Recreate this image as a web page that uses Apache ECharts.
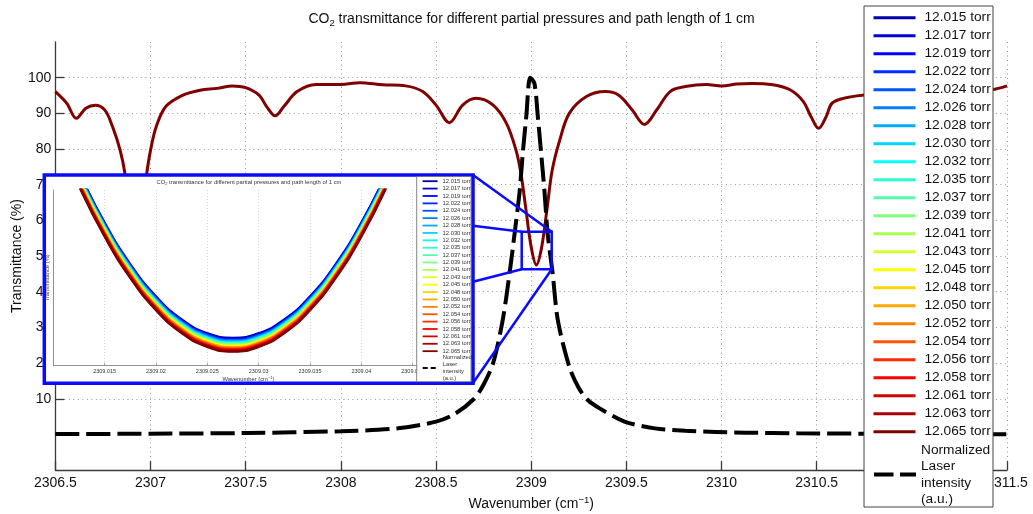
<!DOCTYPE html>
<html>
<head>
<meta charset="utf-8">
<script src="https://cdn.jsdelivr.net/npm/echarts@6/dist/echarts.min.js"></script>
<style>
html,body{margin:0;padding:0;background:#fff;}
#chart{width:1033px;height:514px;}
</style>
</head>
<body>
<div id="chart"></div>
<script>
const FONT = '"Liberation Sans", Arial, Helvetica, sans-serif';

// CO2 partial pressures (torr) and their jet colours
const pressures = ['12.015','12.017','12.019','12.022','12.024','12.026','12.028','12.030',
  '12.032','12.035','12.037','12.039','12.041','12.043','12.045','12.048','12.050','12.052',
  '12.054','12.056','12.058','12.061','12.063','12.065'];
const torrColors = ['#0000aa','#0000d5','#0000ff','#002bff','#0055ff','#0080ff','#00aaff','#00d5ff',
  '#00ffff','#2bffd5','#55ffaa','#80ff80','#aaff55','#d5ff2b','#ffff00','#ffd500','#ffaa00','#ff8000',
  '#ff5500','#ff2b00','#ff0000','#d50000','#aa0000','#800000'];

// Full spectrum (cm^-1, %)
const wavenumber = [2306.50,2306.56,2306.61,2306.66,2306.71,2306.76,2306.80,2306.84,2306.865,2306.89,
  2306.92,2306.95,2306.98,2307.00,2307.03,2307.08,2307.17,2307.26,2307.35,2307.43,2307.50,2307.57,
  2307.61,2307.655,2307.70,2307.77,2307.87,2308.00,2308.10,2308.22,2308.34,2308.43,2308.50,2308.57,
  2308.64,2308.71,2308.80,2308.87,2308.92,2308.945,2308.97,2309.00,2309.027,2309.055,2309.085,2309.11,
  2309.15,2309.20,2309.29,2309.39,2309.46,2309.53,2309.595,2309.66,2309.73,2309.81,2309.92,2310.00,
  2310.08,2310.16,2310.27,2310.36,2310.43,2310.47,2310.51,2310.55,2310.58,2310.64,2310.74,2310.90,
  2311.05,2311.20,2311.35,2311.42,2311.50];
const transmittance = [96.1,92.8,88.6,91.4,92.3,90.9,86.3,79.7,73.2,60.0,
  45.0,60.0,73.2,79.7,86.3,91.9,95.1,96.5,97.0,97.7,97.2,95.1,
  91.9,89.3,91.9,96.1,98.1,98.1,98.6,98.0,97.7,96.1,92.3,87.4,
  92.3,94.2,92.3,87.2,79.7,73.5,64.0,52.5,47.5,52.5,64.0,74.0,
  82.5,90.0,94.7,96.1,95.1,91.0,86.9,91.0,96.1,97.5,98.1,97.7,
  98.2,98.4,98.0,96.6,93.3,89.1,85.8,89.1,92.8,94.2,95.1,95.6,
  95.8,96.0,96.4,96.6,97.7];

// Normalized laser line profile
const laserWavenumber = [2306.5,2307.0,2307.5,2308.0,2308.3,2308.5,2308.6,2308.7,2308.75,2308.8,
  2308.85,2308.886,2308.912,2308.939,2308.956,2308.974,2308.995,2309.017,2309.035,2309.052,2309.07,
  2309.087,2309.113,2309.14,2309.2,2309.25,2309.3,2309.36,2309.49,2309.65,2309.81,2309.97,2310.13,
  2310.4,2310.8,2311.2,2311.5];
const laserIntensity = [0.1,0.2,0.4,0.9,1.7,3.6,5.8,10,14,20,
  32,45,56,68,79,89,100,98.4,89,79,68,
  56,45,32,19,13,9.5,7.3,3.6,1.7,1.0,0.7,0.5,
  0.3,0.2,0.1,0.05];

// Zoomed window around the line centre, one row per pressure
const insetWavenumber = [2309.0100,2309.0125,2309.0150,2309.0175,2309.0200,2309.0225,2309.0250,
  2309.0275,2309.0300,2309.0325,2309.0350,2309.0375,2309.0400,2309.0425,2309.0450];
const insetTransmittance = [
  [49.028,48.621,48.275,47.992,47.772,47.615,47.521,47.489,47.521,47.615,47.772,47.992,48.275,48.621,49.028],
  [49.024,48.617,48.271,47.988,47.768,47.611,47.517,47.485,47.517,47.611,47.768,47.988,48.271,48.617,49.024],
  [49.020,48.613,48.267,47.984,47.764,47.607,47.513,47.481,47.513,47.607,47.764,47.984,48.267,48.613,49.020],
  [49.016,48.609,48.263,47.980,47.760,47.603,47.509,47.477,47.509,47.603,47.760,47.980,48.263,48.609,49.016],
  [49.012,48.605,48.259,47.976,47.756,47.599,47.505,47.473,47.505,47.599,47.756,47.976,48.259,48.605,49.012],
  [49.008,48.601,48.255,47.972,47.752,47.595,47.501,47.469,47.501,47.595,47.752,47.972,48.255,48.601,49.008],
  [49.004,48.597,48.251,47.968,47.748,47.591,47.497,47.465,47.497,47.591,47.748,47.968,48.251,48.597,49.004],
  [49.000,48.593,48.247,47.964,47.744,47.587,47.493,47.461,47.493,47.587,47.744,47.964,48.247,48.593,49.000],
  [48.996,48.589,48.243,47.960,47.740,47.583,47.489,47.457,47.489,47.583,47.740,47.960,48.243,48.589,48.996],
  [48.992,48.585,48.239,47.956,47.736,47.579,47.485,47.453,47.485,47.579,47.736,47.956,48.239,48.585,48.992],
  [48.988,48.581,48.235,47.952,47.732,47.575,47.481,47.449,47.481,47.575,47.732,47.952,48.235,48.581,48.988],
  [48.984,48.577,48.231,47.948,47.728,47.571,47.477,47.445,47.477,47.571,47.728,47.948,48.231,48.577,48.984],
  [48.980,48.573,48.227,47.944,47.724,47.567,47.473,47.441,47.473,47.567,47.724,47.944,48.227,48.573,48.980],
  [48.976,48.569,48.223,47.940,47.720,47.563,47.469,47.437,47.469,47.563,47.720,47.940,48.223,48.569,48.976],
  [48.972,48.565,48.219,47.936,47.716,47.559,47.465,47.433,47.465,47.559,47.716,47.936,48.219,48.565,48.972],
  [48.968,48.561,48.215,47.932,47.712,47.555,47.461,47.429,47.461,47.555,47.712,47.932,48.215,48.561,48.968],
  [48.964,48.557,48.211,47.928,47.708,47.551,47.457,47.425,47.457,47.551,47.708,47.928,48.211,48.557,48.964],
  [48.960,48.553,48.207,47.924,47.704,47.547,47.453,47.421,47.453,47.547,47.704,47.924,48.207,48.553,48.960],
  [48.956,48.549,48.203,47.920,47.700,47.543,47.449,47.417,47.449,47.543,47.700,47.920,48.203,48.549,48.956],
  [48.952,48.545,48.199,47.916,47.696,47.539,47.445,47.413,47.445,47.539,47.696,47.916,48.199,48.545,48.952],
  [48.948,48.541,48.195,47.912,47.692,47.535,47.441,47.409,47.441,47.535,47.692,47.912,48.195,48.541,48.948],
  [48.944,48.537,48.191,47.908,47.688,47.531,47.437,47.405,47.437,47.531,47.688,47.908,48.191,48.537,48.944],
  [48.940,48.533,48.187,47.904,47.684,47.527,47.433,47.401,47.433,47.527,47.684,47.904,48.187,48.533,48.940],
  [48.936,48.529,48.183,47.900,47.680,47.523,47.429,47.397,47.429,47.523,47.680,47.900,48.183,48.529,48.936]
];

// Tick values
const yTickValues = [10,20,30,40,50,60,70,80,90,100];
const insetXTickValues = [2309.015,2309.02,2309.025,2309.03,2309.035,2309.04,2309.045];

const titleText = 'transmittance for different partial pressures and path length of 1 cm';
const laserName = 'Normalized Laser intensity (a.u.)';
const torrNames = pressures.map(p => p + ' torr');

const AX = '#3a3a3a';
const BLUE = '#0a0aff';
const NO_MARKER = { opacity: 0 };

const series = [];
series.push({
  type: 'line', name: torrNames[torrNames.length - 1], xAxisIndex: 0, yAxisIndex: 0,
  data: wavenumber.map((w, i) => [w, transmittance[i]]),
  symbol: 'none', smooth: 0.35, z: 2,
  lineStyle: { color: torrColors[torrColors.length - 1], width: 3 },
  itemStyle: { color: torrColors[torrColors.length - 1] }
});
series.push({
  type: 'line', name: laserName, xAxisIndex: 0, yAxisIndex: 0,
  data: laserWavenumber.map((w, i) => [w, laserIntensity[i]]),
  symbol: 'none', smooth: 0.3, z: 3,
  lineStyle: { color: '#000', width: 4, type: [24, 7] },
  itemStyle: { color: '#000' }
});
insetTransmittance.forEach((row, k) => {
  series.push({
    type: 'line', name: torrNames[k], xAxisIndex: 1, yAxisIndex: 1,
    data: insetWavenumber.map((w, i) => [w, row[i]]),
    symbol: 'none', smooth: true, z: 31,
    lineStyle: { color: torrColors[k], width: 2.5 },
    itemStyle: { color: torrColors[k] }
  });
});

const option = {
  animation: false,
  backgroundColor: '#fff',
  textStyle: { fontFamily: FONT },
  grid: [
    { left: 55.4, right: 26, top: 42, bottom: 43.9, outerBoundsMode: 'none' },
    { left: 53.3, top: 190, width: 390.2, height: 175.7, outerBoundsMode: 'none' }
  ],
  xAxis: [
    {
      type: 'value', gridIndex: 0, min: 2306.5, max: 2311.5, interval: 0.5,
      axisLine: { show: true, onZero: false, lineStyle: { color: AX, width: 1.3 } },
      axisTick: { show: true, inside: true, length: 9, lineStyle: { color: AX, width: 1.3 } },
      axisLabel: { margin: 6, fontSize: 14, color: '#111', fontFamily: FONT,
        showMinLabel: true, showMaxLabel: true,
        formatter: v => String(+v.toFixed(3)) },
      splitLine: { show: true, lineStyle: { color: '#9a9a9a', width: 1, type: [1, 3.5] } },
      name: '{n|Wavenumber (cm}{p|\u22121}{n|)}', nameLocation: 'middle', nameGap: 23,
      nameTextStyle: { rich: {
        n: { fontSize: 14, color: '#111', fontFamily: FONT, lineHeight: 18 },
        p: { fontSize: 9.5, color: '#111', fontFamily: FONT, lineHeight: 18, verticalAlign: 'top', padding: [0, 0, 6, 0] }
      } }
    },
    {
      type: 'value', gridIndex: 1, min: 2309.010, max: 2309.048, interval: 0.005, z: 30,
      axisLine: { show: true, onZero: false, lineStyle: { color: '#777', width: 0.8 } },
      axisTick: { show: true, inside: true, length: 3, customValues: insetXTickValues, lineStyle: { color: '#777', width: 0.6 } },
      axisLabel: { customValues: insetXTickValues, margin: 3, fontSize: 5.5, color: '#333', fontFamily: FONT,
        formatter: v => String(+v.toFixed(4)) },
      splitLine: { show: true, lineStyle: { color: '#bbb', width: 0.6, type: [1, 2] } },
      name: '{n|Wavenumber (cm}{p|\u22121}{n|)}', nameLocation: 'middle', nameGap: 9,
      nameTextStyle: { rich: {
        n: { fontSize: 5.8, color: '#333', fontFamily: FONT, lineHeight: 8 },
        p: { fontSize: 4, color: '#333', fontFamily: FONT, lineHeight: 8, verticalAlign: 'top' }
      } }
    }
  ],
  yAxis: [
    {
      type: 'value', gridIndex: 0, min: -10, max: 110, interval: 10,
      axisLine: { show: true, onZero: false, lineStyle: { color: AX, width: 1.3 } },
      axisTick: { show: true, inside: true, length: 9, customValues: yTickValues, lineStyle: { color: AX, width: 1.3 } },
      axisLabel: { customValues: yTickValues, margin: 4, fontSize: 14, color: '#111', fontFamily: FONT },
      splitLine: { show: true, lineStyle: { color: '#9a9a9a', width: 1, type: [1, 3.5] } },
      name: 'Transmittance (%)', nameLocation: 'middle', nameGap: 31, nameMoveOverlap: false,
      nameTextStyle: { fontSize: 14, color: '#111', fontFamily: FONT }
    },
    {
      type: 'value', gridIndex: 1, min: 47.30, max: 48.50, z: 30,
      axisLine: { show: true, onZero: false, lineStyle: { color: '#777', width: 0.8 } },
      axisTick: { show: false }, axisLabel: { show: false }, splitLine: { show: false },
      name: 'Transmittance (%)', nameLocation: 'middle', nameGap: 3,
      nameTextStyle: { fontSize: 5.8, color: '#333', fontFamily: FONT }
    }
  ],
  legend: [
    {
      data: torrNames, orient: 'vertical', left: 872, top: 10.7, padding: 0, z: 21,
      itemWidth: 42, itemHeight: 14, itemGap: 4, selectedMode: false,
      textStyle: { fontSize: 13.7, lineHeight: 14, color: '#111', fontFamily: FONT, padding: [0, 0, 0, 4] },
      itemStyle: NO_MARKER,
      lineStyle: { width: 3 }
    },
    {
      data: [laserName], orient: 'vertical', left: 872, top: 442, padding: 0, z: 21,
      itemWidth: 42, itemHeight: 14, selectedMode: false,
      formatter: n => n.split(' ').join('\n'),
      textStyle: { fontSize: 13.7, lineHeight: 16.3, color: '#111', fontFamily: FONT },
      itemStyle: NO_MARKER,
      lineStyle: { width: 4, type: [19.5, 6.5] }
    },
    {
      data: torrNames, orient: 'vertical', left: 421.7, top: 178.2, padding: 0, z: 35,
      itemWidth: 15, itemHeight: 5, itemGap: 1.39, selectedMode: false,
      textStyle: { fontSize: 5.8, lineHeight: 5, color: '#333', fontFamily: FONT },
      itemStyle: NO_MARKER,
      lineStyle: { width: 1.8 }
    },
    {
      data: [laserName], orient: 'vertical', left: 421.7, top: 353.8, padding: 0, z: 35,
      itemWidth: 15, itemHeight: 5, selectedMode: false,
      formatter: n => n.split(' ').join('\n'),
      textStyle: { fontSize: 5.8, lineHeight: 7.1, color: '#333', fontFamily: FONT },
      itemStyle: NO_MARKER,
      lineStyle: { width: 2, type: [5, 3] }
    }
  ],
  graphic: [
    // main title
    { type: 'text', x: 531.5, y: 19.5, z: 50, silent: true,
      style: { text: '{n|CO}{s|2}{n| ' + titleText + '}', align: 'center', verticalAlign: 'middle',
        rich: {
          n: { fontSize: 14, fontFamily: FONT, fill: '#111', lineHeight: 17 },
          s: { fontSize: 9.5, fontFamily: FONT, fill: '#111', lineHeight: 11, verticalAlign: 'bottom' }
        } } },
    // legend frame
    { type: 'rect', z: 20, silent: true, shape: { x: 864, y: 6, width: 129, height: 501 },
      style: { fill: '#fff', stroke: '#444', lineWidth: 1 } },
    // magnifier frame
    { type: 'rect', z: 20, silent: true, shape: { x: 44.3, y: 175, width: 428.7, height: 208.3 },
      style: { fill: '#fff', stroke: BLUE, lineWidth: 3.5 } },
    // region marker and connectors
    { type: 'rect', z: 25, silent: true, shape: { x: 521.7, y: 231.7, width: 30, height: 37.6 },
      style: { fill: 'none', stroke: BLUE, lineWidth: 2.5 } },
    { type: 'line', z: 25, silent: true, shape: { x1: 473, y1: 175, x2: 551.7, y2: 231.7 },
      style: { stroke: BLUE, lineWidth: 2.5 } },
    { type: 'line', z: 25, silent: true, shape: { x1: 473, y1: 225.7, x2: 521.7, y2: 231.7 },
      style: { stroke: BLUE, lineWidth: 2.5 } },
    { type: 'line', z: 25, silent: true, shape: { x1: 473, y1: 281.7, x2: 521.7, y2: 269.3 },
      style: { stroke: BLUE, lineWidth: 2.5 } },
    { type: 'line', z: 25, silent: true, shape: { x1: 473, y1: 383, x2: 551.7, y2: 269.3 },
      style: { stroke: BLUE, lineWidth: 2.5 } },
    // inset legend frame
    { type: 'rect', z: 33, silent: true, shape: { x: 416.7, y: 176.5, width: 54.3, height: 205.2 },
      style: { fill: '#fff', stroke: '#666', lineWidth: 0.8 } },
    // inset title
    { type: 'text', x: 249, y: 182, z: 34, silent: true,
      style: { text: '{n|CO}{s|2}{n| ' + titleText + '}', align: 'center', verticalAlign: 'middle',
        rich: {
          n: { fontSize: 5.8, fontFamily: FONT, fill: '#333', lineHeight: 8 },
          s: { fontSize: 4, fontFamily: FONT, fill: '#333', lineHeight: 5, verticalAlign: 'bottom' }
        } } }
  ],
  series: series
};

const chart = echarts.init(document.getElementById('chart'), null, { renderer: 'canvas' });
chart.setOption(option);
</script>
</body>
</html>
